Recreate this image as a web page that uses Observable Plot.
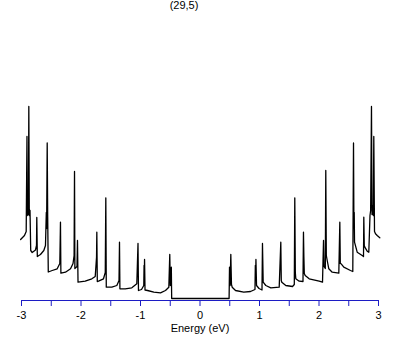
<!DOCTYPE html>
<html>
<head>
<meta charset="utf-8">
<script src="https://cdn.jsdelivr.net/npm/d3@7"></script>
<script src="https://cdn.jsdelivr.net/npm/@observablehq/plot@0.6"></script>
<style>
  html, body { margin: 0; padding: 0; background: #fff; }
  #wrap { position: relative; width: 409px; height: 345px; }
  #title { position: absolute; left: 0; top: -1px; width: 368px; text-align: center;
           font: 11px "Liberation Sans", Arial, sans-serif; line-height: 12px; color: #000; }
</style>
</head>
<body>
<div id="wrap">
  <div id="title"></div>
  <div id="chart"></div>
</div>
<script>
const titleText = "(29,5)";
const xLabel = "Energy (eV)";
const xTicks = [-3, -2.5, -2, -1.5, -1, -0.5, 0, 0.5, 1, 1.5, 2, 2.5, 3];

// Energy (eV)
const energy = [
  -3.015, -2.950, -2.921, -2.908, -2.903, -2.891, -2.884, -2.877, -2.869, -2.857,
  -2.845, -2.820, -2.765, -2.748, -2.743, -2.734, -2.681, -2.625, -2.597, -2.583,
  -2.578, -2.568, -2.560, -2.550, -2.484, -2.400, -2.356, -2.345, -2.338, -2.261,
  -2.176, -2.134, -2.116, -2.109, -2.103, -2.067, -2.059, -2.050, -1.929, -1.818,
  -1.761, -1.739, -1.734, -1.726, -1.706, -1.622, -1.592, -1.583, -1.575, -1.482,
  -1.398, -1.361, -1.353, -1.346, -1.257, -1.146, -1.062, -1.042, -1.034, -0.983,
  -0.945, -0.940, -0.936, -0.932, -0.924, -0.882, -0.776, -0.664, -0.580, -0.524,
  -0.508, -0.499, -0.482, -0.476,
  0.489, 0.496, 0.506, 0.518, 0.529, 0.541, 0.597, 0.736, 0.849, 0.924,
  0.930, 0.935, 0.940, 0.950, 0.992, 1.042, 1.050, 1.062, 1.106, 1.190,
  1.331, 1.358, 1.366, 1.375, 1.442, 1.555, 1.585, 1.593, 1.602, 1.610,
  1.667, 1.731, 1.739, 1.746, 1.753, 1.768, 1.835, 2.003, 2.059, 2.076,
  2.084, 2.106, 2.114, 2.123, 2.138, 2.165, 2.222, 2.333, 2.350, 2.358,
  2.373, 2.417, 2.529, 2.568, 2.580, 2.587, 2.592, 2.597, 2.642, 2.726,
  2.748, 2.753, 2.761, 2.770, 2.810, 2.837, 2.857, 2.868, 2.882, 2.891,
  2.904, 2.913, 2.921, 2.933, 2.950, 2.978, 3.022
];

// Density of states (arb. units)
const dos = [
  0.59, 0.63, 0.67, 1.62, 0.83, 0.93, 0.84, 1.92, 0.83, 0.88,
  0.48, 0.46, 0.485, 0.53, 0.81, 0.42, 0.44, 0.48, 0.53, 0.86,
  0.70, 1.555, 0.83, 0.265, 0.28, 0.297, 0.35, 0.763, 0.253, 0.263,
  0.297, 0.35, 0.43, 1.27, 0.30, 0.32, 0.58, 0.163, 0.173, 0.197,
  0.22, 0.413, 0.663, 0.17, 0.173, 0.197, 0.26, 1.007, 0.113, 0.113,
  0.13, 0.18, 0.563, 0.097, 0.097, 0.107, 0.147, 0.55, 0.08, 0.09,
  0.13, 0.33, 0.20, 0.39, 0.085, 0.08, 0.063, 0.057, 0.08, 0.113,
  0.44, 0.13, 0.313, 0,
  0, 0.313, 0.13, 0.44, 0.14, 0.113, 0.08, 0.063, 0.07, 0.09,
  0.33, 0.20, 0.39, 0.13, 0.10, 0.085, 0.55, 0.163, 0.13, 0.107,
  0.113, 0.563, 0.18, 0.163, 0.13, 0.12, 0.14, 1.007, 0.26, 0.197,
  0.173, 0.17, 0.663, 0.413, 0.25, 0.23, 0.197, 0.173, 0.163, 0.58,
  0.32, 0.30, 1.28, 0.43, 0.38, 0.297, 0.263, 0.253, 0.763, 0.35,
  0.347, 0.313, 0.28, 0.27, 1.555, 0.70, 0.86, 0.563, 0.463, 0.43,
  0.42, 0.813, 0.53, 0.513, 0.473, 0.463, 0.83, 0.88, 1.92, 0.84,
  0.93, 0.83, 1.62, 0.67, 0.647, 0.63, 0.607
];

const data = energy.map((e, i) => ({energy: e, dos: dos[i]}));
const yDomain = [-0.02, 2.78];
const axisBlue = "#1c1cc4";
const font = "'Liberation Sans', Arial, sans-serif";

document.getElementById("title").textContent = titleText;

const chart = Plot.plot({
  width: 409,
  height: 345,
  marginLeft: 21,
  marginRight: 31,
  marginTop: 20,
  marginBottom: 45,
  style: {fontFamily: font, fontSize: "11px", background: "white", color: "black"},
  x: {domain: [-3, 3]},
  y: {domain: yDomain, axis: null},
  marks: [
    Plot.ruleY([yDomain[0]], {stroke: axisBlue, strokeWidth: 1}),
    Plot.axisX({
      ticks: xTicks,
      tickSize: 6,
      tickPadding: 5,
      tickFormat: d => Number.isInteger(d) ? String(d) : "",
      stroke: axisBlue,
      fill: "black",
      fontSize: 11,
      label: null
    }),
    Plot.text([xLabel], {frameAnchor: "bottom", dy: 31, fontSize: 11, fill: "black"}),
    Plot.line(data, {x: "energy", y: "dos", stroke: "black", strokeWidth: 1.3, curve: "linear"})
  ]
});
document.getElementById("chart").appendChild(chart);
</script>
</body>
</html>
